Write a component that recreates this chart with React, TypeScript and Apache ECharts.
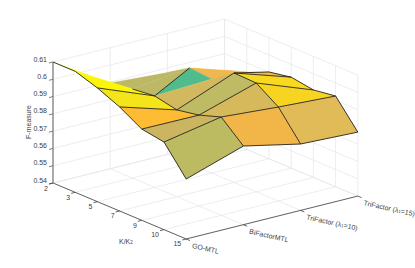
import React, { useEffect, useRef } from "react";
import * as echarts from "echarts";

const kLabels = ["2", "3", "5", "7", "9", "10", "15"];
const methods = ["GO-MTL", "BiFactorMTL", "TriFactor (λ1=10)", "TriFactor (λ1=15)"];
const zTicks = [0.54, 0.55, 0.56, 0.57, 0.58, 0.59, 0.6, 0.61];

// F-measure per K value, one list per method
const goMtl = [0.61, 0.61, 0.6058, 0.6002, 0.5928, 0.5907, 0.5747];
const biFactor = [0.5896, 0.5915, 0.5929, 0.5902, 0.5926, 0.5969, 0.5855];
const tri10 = [0.5874, 0.5954, 0.5944, 0.6033, 0.6029, 0.5944, 0.5784];
const tri15 = [0.5805, 0.5848, 0.5902, 0.5926, 0.5906, 0.5925, 0.577];
const surface = [goMtl, biFactor, tri10, tri15];

// face colours, per method interval, per K interval
const facesGoBi = ["#ffff00", "#fbf50a", "#f4e51a", "#fdbc33", "#cbb560", "#bdbb62"];
const facesBiT10 = ["#bdb865", "#bdb865", "#d2b95f", "#bfbb64", "#d6b95b", "#f2b648"];
const facesT10T15 = ["#efb74e", "#f0b74c", "#eeba50", "#f9d91f", "#f8d422", "#e0bb58"];
const faceColors = [facesGoBi, facesBiT10, facesT10T15];
const tealColor = "#50bc8e";

const W = 415;
const H = 268;
const origin = [53, 183];
const iStep = [22.2, 9.33];
const jStep = [57.2, -14.3];
const zPx = 121 / 0.07;
const zMin = 0.54;

const p = (i: number, j: number, z: number = zMin): number[] => [
  origin[0] + iStep[0] * i + jStep[0] * j,
  origin[1] + iStep[1] * i + jStep[1] * j - (z - zMin) * zPx,
];
const v = (i: number, j: number) => p(i, j, surface[j][i]);

const zTop = zTicks[zTicks.length - 1];
const nI = kLabels.length - 1;
const nJ = methods.length - 1;

function gridShapes() {
  const out: any[] = [];
  const add = (a: number[], b: number[]) =>
    out.push({ type: "line", shape: { x1: a[0], y1: a[1], x2: b[0], y2: b[1] }, style: { stroke: "#e8e8e8", lineWidth: 0.8 } });
  zTicks.forEach((z) => {
    add(p(0, 0, z), p(0, nJ, z));
    add(p(0, nJ, z), p(nI, nJ, z));
  });
  kLabels.forEach((_, i) => {
    add(p(i, 0), p(i, nJ));
    add(p(i, nJ), p(i, nJ, zTop));
  });
  methods.forEach((_, j) => {
    add(p(0, j), p(nI, j));
    add(p(0, j), p(0, j, zTop));
  });
  return out;
}

function polygon(points: number[][], fill: string) {
  return { type: "polygon", shape: { points }, style: { fill, stroke: fill, lineWidth: 0.3 } };
}

function faceShapes() {
  const out: any[] = [];
  for (let j = nJ - 1; j >= 0; j--) {
    for (let i = 0; i < nI; i++) {
      const c = faceColors[j][i];
      if (j === 1 && i === 1) {
        out.push(polygon([v(1, 1), v(2, 1), v(1, 2)], c));
        out.push(polygon([v(2, 1), v(2, 2), v(1, 2)], tealColor));
      } else {
        out.push(polygon([v(i, j), v(i + 1, j), v(i + 1, j + 1), v(i, j + 1)], c));
      }
    }
  }
  return out;
}

// visible mesh edges, as [K index, method index] pairs
const meshEdges = [
  [[0, 0], [1, 0]], [[1, 0], [2, 0]], [[2, 0], [3, 0]], [[3, 0], [4, 0]], [[4, 0], [5, 0]], [[5, 0], [6, 0]],
  [[2, 0], [2, 1]], [[3, 0], [3, 1]], [[4, 0], [4, 1]], [[5, 0], [5, 1]], [[6, 0], [6, 1]],
  [[1, 1], [2, 1]], [[2, 1], [3, 1]], [[3, 1], [4, 1]], [[4, 1], [5, 1]], [[5, 1], [6, 1]],
  [[2, 1], [1, 2]], [[3, 1], [3, 2]], [[4, 1], [4, 2]], [[5, 1], [5, 2]], [[6, 1], [6, 2]],
  [[3, 2], [4, 2]], [[4, 2], [5, 2]], [[5, 2], [6, 2]],
  [[3, 2], [3, 3]], [[4, 2], [4, 3]], [[5, 2], [5, 3]], [[6, 2], [6, 3]],
  [[3, 2], [2, 3]], [[2, 3], [3, 3]], [[3, 3], [4, 3]], [[4, 3], [5, 3]], [[5, 3], [6, 3]],
];

function edgeShapes() {
  return meshEdges.map(([a, b]) => {
    const s = v(a[0], a[1]);
    const e = v(b[0], b[1]);
    return { type: "line", shape: { x1: s[0], y1: s[1], x2: e[0], y2: e[1] }, style: { stroke: "#1a1a1a", lineWidth: 0.85 } };
  });
}

function axisShapes() {
  const out: any[] = [];
  const add = (a: number[], b: number[], stroke = "#404040", lineWidth = 0.8) =>
    out.push({ type: "line", shape: { x1: a[0], y1: a[1], x2: b[0], y2: b[1] }, style: { stroke, lineWidth } });
  add(p(0, 0), p(nI, 0));
  add(p(nI, 0), p(nI, nJ));
  add(p(0, 0), p(0, 0, zTop), "#8a8a8a", 1.4);
  zTicks.forEach((z) => add(p(0, 0, z), p(0, -0.07, z), "#606060"));
  kLabels.forEach((_, i) => add(p(i, 0), p(i, -0.07)));
  methods.forEach((_, j) => add(p(nI, j), p(nI + 0.17, j)));

  const text = (t: string, x: number, y: number, opts: any = {}, rotation = 0) =>
    out.push({
      type: "text",
      x,
      y,
      rotation,
      style: {
        text: t,
        fill: "#404040",
        fontFamily: "Liberation Sans",
        fontSize: 7,
        align: opts.align ?? "left",
        verticalAlign: opts.verticalAlign ?? "middle",
        rich: opts.rich,
      },
    });

  zTicks.forEach((z) => {
    const a = p(0, 0, z);
    text(z === 0.6 ? "0.6" : String(z), a[0] - 6, a[1] - 3, { align: "right" });
  });
  kLabels.forEach((k, i) => {
    const a = p(i, 0);
    text(k, a[0] - 5, a[1] + 5, { align: "right" });
  });
  const sub = {
    n: { fontSize: 7, fill: "#404040", fontFamily: "Liberation Sans", verticalAlign: "top", lineHeight: 7 },
    s: { fontSize: 4.5, fill: "#404040", fontFamily: "Liberation Sans", verticalAlign: "bottom", lineHeight: 5, padding: [5, 0, 0, 0] },
  };
  methods.forEach((m, j) => {
    const a = p(nI, j);
    const t = m.includes("λ1") ? `{n|${m.split("λ1")[0]}λ}{s|1}{n|${m.split("λ1")[1]}}` : `{n|${m}}`;
    text(t, a[0] + 6, a[1] + 6.5, { rich: sub }, -0.22);
  });
  text("{n|K/K}{s|2}", 119, 241.5, { rich: sub });
  text("F-measure", 28, 122, { align: "center" }, Math.PI / 2);
  return out;
}

export default function App() {
  const ref = useRef<HTMLDivElement>(null);
  useEffect(() => {
    document.body.style.margin = "0";
    const chart = echarts.init(ref.current!, undefined, { renderer: "svg" });
    const custom = (name: string, build: () => any[]) => ({
      type: "custom",
      name,
      coordinateSystem: "none",
      silent: true,
      data: [0],
      renderItem: () => ({ type: "group", children: build() }),
    });
    chart.setOption({
      animation: false,
      backgroundColor: "#ffffff",
      series: [
        custom("grid", gridShapes),
        custom("axes", axisShapes),
        custom("surface", faceShapes),
        custom("mesh", edgeShapes),
      ],
    });
    return () => chart.dispose();
  }, []);
  return <div ref={ref} style={{ width: W, height: H }} />;
}
